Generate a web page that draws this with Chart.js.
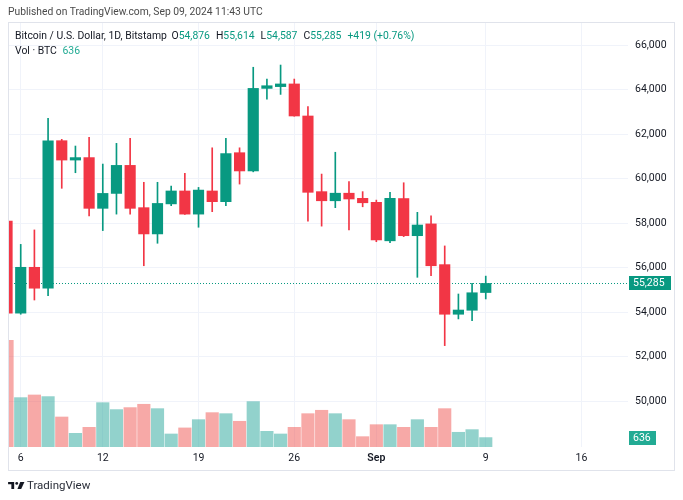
<!DOCTYPE html>
<html>
<head>
<meta charset="utf-8">
<script src="https://cdn.jsdelivr.net/npm/chart.js@4.4.1/dist/chart.umd.min.js"></script>
<style>
  body { margin: 0; background: #fff; font-family: Roboto, "Liberation Sans", sans-serif; }
  #wrap { position: relative; width: 683px; height: 500px; overflow: hidden; }
  #chart { position: absolute; left: 0; top: 0; }
  .txt { position: absolute; white-space: nowrap; color: #131722; }
  .up { color: #089981; }
  .grp { margin-left: 6px; }
</style>
</head>
<body>
<div id="wrap">
  <canvas id="chart" width="683" height="500"></canvas>
  <div class="txt" id="pub" style="left:8px; top:5px; font-size:10.3px; color:#4a4a4a;">Published on TradingView.com, Sep 09, 2024 11:43 UTC</div>
  <div class="txt" id="legend" style="left:15px; top:29px; font-size:10.4px;"></div>
  <div class="txt" id="vol" style="left:15px; top:44px; font-size:10.4px;"></div>
  <div class="txt" style="left:8px; top:478px; font-size:11.5px; color:#2a2e39;">
    <svg width="17" height="7" viewBox="0 0 36 15" style="vertical-align:0px; margin-right:2px;">
      <path d="M0 0 H13 V15 H7 V5 H0 Z" fill="#131722"/>
      <circle cx="18.5" cy="3" r="3" fill="#131722"/>
      <path d="M26 0 H35 L28 15 H20 Z" fill="#131722"/>
    </svg>TradingView
  </div>
</div>
<script>
// daily candles, Bitstamp BTC/USD
const days = ['Aug 5', 'Aug 6', 'Aug 7', 'Aug 8', 'Aug 9', 'Aug 10', 'Aug 11', 'Aug 12', 'Aug 13', 'Aug 14',
  'Aug 15', 'Aug 16', 'Aug 17', 'Aug 18', 'Aug 19', 'Aug 20', 'Aug 21', 'Aug 22', 'Aug 23', 'Aug 24',
  'Aug 25', 'Aug 26', 'Aug 27', 'Aug 28', 'Aug 29', 'Aug 30', 'Aug 31', 'Sep 1', 'Sep 2', 'Sep 3',
  'Sep 4', 'Sep 5', 'Sep 6', 'Sep 7', 'Sep 8', 'Sep 9'];
const opens = [58090, 53950, 56010, 55070, 61700, 60830, 60940, 58660, 59330, 60590,
  58690, 57510, 58860, 59440, 58400, 59440, 58960, 61160, 60340, 64050,
  64130, 64250, 62810, 59410, 59000, 59340, 59110, 58930, 57200, 59100,
  57430, 57960, 56130, 53900, 54080, 54876];
const highs = [58300, 57040, 57690, 62700, 61760, 61460, 61850, 60650, 61580, 61810,
  59830, 59830, 59660, 60230, 59600, 61380, 61810, 61380, 65000, 64470,
  65100, 64470, 63230, 60200, 61180, 59860, 59410, 59030, 59380, 59810,
  58480, 58320, 56970, 54810, 55290, 55614];
const lows = [49050, 53900, 54540, 54730, 59560, 60260, 58320, 57660, 58400, 58400,
  56080, 57090, 58780, 58390, 57810, 58510, 58780, 59750, 60300, 63570,
  63780, 62800, 58080, 57860, 58690, 57690, 58730, 57160, 57120, 57390,
  55560, 55630, 52490, 53690, 53610, 54587];
const closes = [53950, 56010, 55070, 61690, 60830, 60940, 58660, 59330, 60590, 58660,
  57510, 58880, 59440, 58400, 59480, 58960, 61120, 60340, 64050, 64170,
  64250, 62810, 59380, 59000, 59340, 59080, 58910, 57240, 59110, 57430,
  57910, 56080, 53900, 54090, 54866, 55285];
const volumes = [7220, 3340, 3520, 3410, 2030, 925, 1330, 3000, 2530, 2665,
  2890, 2595, 880, 1290, 1850, 2325, 2255, 1740, 3070, 1060,
  880, 1330, 2255, 2485, 2255, 1850, 700, 1510, 1510, 1330,
  1850, 1330, 2595, 995, 1175, 636];

const tickIdx = [1, 7, 14, 21, 27, 35, 42];
const tickLabels = ['6', '12', '19', '26', 'Sep', '9', '16'];
const priceTicks = [50000, 52000, 54000, 56000, 58000, 60000, 62000, 64000, 66000];

const UP = '#089981', DOWN = '#f23645';
const VOL_UP = 'rgba(38,166,154,0.5)', VOL_DOWN = 'rgba(239,83,80,0.5)';
const FONT = 'Roboto, "Liberation Sans", sans-serif';

const isUp = i => closes[i] >= opens[i];
const fmt = v => v.toLocaleString('en-US');
const last = closes.length - 1;

// legend text
const chg = closes[last] - closes[last - 1];
const pct = chg / closes[last - 1] * 100;
document.getElementById('legend').innerHTML =
  'Bitcoin / U.S. Dollar, 1D, Bitstamp ' +
  '<span style="margin-left:2px;">O<span class="up">' + fmt(opens[last]) + '</span></span>' +
  '<span class="grp">H<span class="up">' + fmt(highs[last]) + '</span></span>' +
  '<span class="grp">L<span class="up">' + fmt(lows[last]) + '</span></span>' +
  '<span class="grp">C<span class="up">' + fmt(closes[last]) + '</span></span>' +
  '<span class="grp up">' + (chg >= 0 ? '+' : '') + chg + ' (' + (chg >= 0 ? '+' : '') + pct.toFixed(2) + '%)</span>';
document.getElementById('vol').innerHTML =
  'Vol · BTC <span style="color:#22ab94; margin-left:3px;">' + volumes[last] + '</span>';

const tvExtras = {
  id: 'tvExtras',
  beforeDatasetsDraw(chart) {
    const {ctx, chartArea: a, scales} = chart;
    const y = Math.round(scales.y.getPixelForValue(closes[last])) + 0.5;
    ctx.save();
    ctx.strokeStyle = UP;
    ctx.lineWidth = 1;
    ctx.setLineDash([1, 2]);
    ctx.beginPath();
    ctx.moveTo(a.left, y);
    ctx.lineTo(a.right, y);
    ctx.stroke();
    ctx.restore();
  },
  afterDraw(chart) {
    const {ctx, chartArea: a, scales} = chart;
    ctx.save();
    ctx.strokeStyle = '#e0e3eb';
    ctx.lineWidth = 1;
    ctx.strokeRect(8.5, 22.5, 666, 448);

    ctx.font = '10.5px ' + FONT;
    ctx.textBaseline = 'middle';
    ctx.textAlign = 'left';
    // last price label
    let y = Math.round(scales.y.getPixelForValue(closes[last]));
    ctx.fillStyle = UP;
    ctx.fillRect(a.right + 1, y - 7, 42, 14);
    ctx.fillStyle = '#fff';
    ctx.fillText(fmt(closes[last]), a.right + 5, y + 0.5);
    // last volume label
    y = Math.round(scales.yv.getPixelForValue(volumes[last]));
    ctx.fillStyle = '#22ab94';
    ctx.fillRect(a.right + 1, y - 7, 27, 14);
    ctx.fillStyle = '#fff';
    ctx.fillText(String(volumes[last]), a.right + 5, y + 0.5);
    ctx.restore();
  }
};

const ctx = document.getElementById('chart').getContext('2d');
const chart = new Chart(ctx, {
  type: 'bar',
  data: {
    datasets: [
      {
        label: 'Body',
        data: days.map((d, i) => ({x: i, y: [opens[i], closes[i]]})),
        backgroundColor: days.map((d, i) => isUp(i) ? UP : DOWN),
        barThickness: 10.5,
        grouped: false,
        yAxisID: 'y',
        order: 0,
      },
      {
        label: 'Wick',
        data: days.map((d, i) => ({x: i, y: [lows[i], highs[i]]})),
        backgroundColor: days.map((d, i) => isUp(i) ? UP : DOWN),
        barThickness: 1,
        grouped: false,
        yAxisID: 'y',
        order: 1,
      },
      {
        label: 'Volume',
        data: days.map((d, i) => ({x: i, y: volumes[i]})),
        backgroundColor: days.map((d, i) => isUp(i) ? VOL_UP : VOL_DOWN),
        barThickness: 12.5,
        grouped: false,
        yAxisID: 'yv',
        order: 2,
      },
    ],
  },
  options: {
    responsive: false,
    animation: false,
    events: [],
    layout: { padding: { left: 8, top: 22, right: 8, bottom: 30 } },
    plugins: {
      legend: { display: false },
      tooltip: { enabled: false },
    },
    scales: {
      x: {
        type: 'linear',
        min: 0.07,
        max: 45.4,
        offset: false,
        grid: { color: '#f0f3fa', drawTicks: false, offset: false },
        border: { display: false },
        afterBuildTicks: s => { s.ticks = tickIdx.map(v => ({value: v})); },
        afterFit: s => { s.height = 23; },
        ticks: {
          autoSkip: false,
          maxRotation: 0,
          padding: 5,
          color: '#131722',
          callback: (v, i) => tickLabels[i],
          font: c => ({ family: FONT, size: 10.5, weight: tickLabels[c.index] === 'Sep' ? '600' : '400' }),
        },
      },
      y: {
        type: 'linear',
        position: 'right',
        min: 47934,
        max: 67034,
        grid: { color: '#f0f3fa', drawTicks: false },
        border: { display: false },
        afterBuildTicks: s => { s.ticks = priceTicks.map(v => ({value: v})); },
        afterFit: s => { s.width = 47; },
        ticks: {
          padding: 7,
          color: '#131722',
          font: { family: FONT, size: 10.5 },
          callback: v => fmt(v),
        },
      },
      yv: {
        type: 'linear',
        display: false,
        min: 0,
        max: 28755,
      },
    },
  },
  plugins: [tvExtras],
});
</script>
</body>
</html>
